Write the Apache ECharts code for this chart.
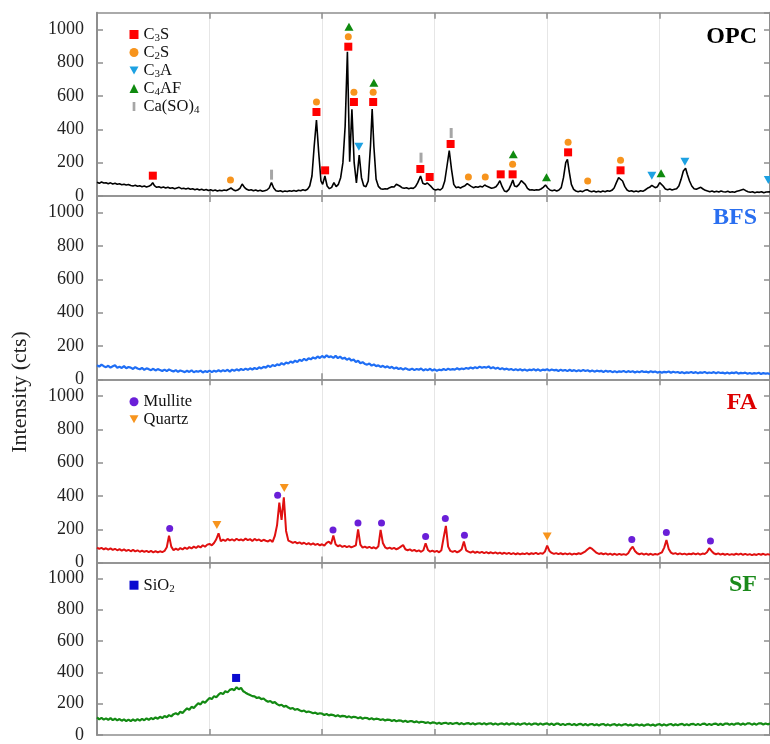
<!DOCTYPE html>
<html><head><meta charset="utf-8">
<script src="https://cdn.jsdelivr.net/npm/echarts@6/dist/echarts.min.js"></script>
<style>html,body{margin:0;padding:0;background:#fff}#c{width:770px;height:744px}</style>
</head><body><div id="c"></div>
<script>
// ---------- DATA ----------
const twoThetaTicks = [10, 20, 30, 40, 50, 60];
const twoThetaMax = 69.8;
const intensityTicks = [0, 200, 400, 600, 800, 1000];
const intensityMax = 1100;
const panelNames = ['OPC', 'BFS', 'FA', 'SF'];
const scanStart = 10, scanStep = 0.2; // measurement grid of BFS / FA / SF scans

const opcScan = [[10.0,82],[10.2,76],[10.4,84],[10.6,78],[10.8,80],[11.0,74],[11.2,79],[11.4,72],[11.6,76],[11.8,70],[12.0,73],[12.2,68],[12.4,71],[12.6,66],[12.8,69],[13.0,63],[13.2,60],[13.4,64],[13.6,58],[13.8,61],[14.0,56],[14.2,60],[14.4,54],[14.6,58],[14.8,66],[14.95,80],[15.1,62],[15.3,52],[15.5,56],[15.7,50],[15.9,54],[16.1,48],[16.3,53],[16.5,46],[16.7,50],[16.9,44],[17.1,48],[17.3,52],[17.5,44],[17.7,47],[17.9,42],[18.1,46],[18.3,40],[18.5,44],[18.7,38],[18.9,42],[19.1,36],[19.3,40],[19.5,35],[19.7,39],[19.9,33],[20.1,37],[20.3,32],[20.5,36],[20.7,30],[20.9,34],[21.1,32],[21.3,36],[21.5,33],[21.7,40],[21.9,48],[22.1,38],[22.3,32],[22.5,36],[22.7,46],[22.9,72],[23.1,52],[23.3,40],[23.5,34],[23.7,38],[23.9,32],[24.1,36],[24.3,30],[24.5,34],[24.7,28],[24.9,32],[25.1,36],[25.3,48],[25.5,80],[25.7,48],[25.9,32],[26.1,28],[26.3,32],[26.5,26],[26.7,30],[26.9,27],[27.1,32],[27.3,28],[27.5,33],[27.7,29],[27.9,35],[28.1,31],[28.3,37],[28.5,33],[28.7,40],[28.9,60],[29.1,120],[29.3,300],[29.5,456],[29.7,260],[29.9,90],[30.05,70],[30.25,120],[30.45,60],[30.65,44],[30.85,52],[31.05,80],[31.25,56],[31.45,70],[31.65,110],[31.85,200],[32.05,420],[32.25,866],[32.45,206],[32.65,520],[32.85,200],[33.05,78],[33.3,246],[33.5,110],[33.7,62],[33.9,56],[34.1,90],[34.3,300],[34.45,522],[34.6,300],[34.8,100],[35.0,58],[35.2,44],[35.4,40],[35.6,44],[35.8,42],[36.0,50],[36.2,56],[36.4,54],[36.6,70],[36.75,80],[36.9,60],[37.1,50],[37.3,46],[37.5,50],[37.7,44],[37.9,48],[38.1,46],[38.3,56],[38.5,80],[38.75,120],[38.95,76],[39.15,70],[39.35,78],[39.5,86],[39.7,56],[39.9,40],[40.1,36],[40.3,40],[40.5,36],[40.7,48],[40.9,90],[41.1,180],[41.3,272],[41.5,160],[41.7,70],[41.9,50],[42.1,54],[42.3,48],[42.5,56],[42.7,62],[42.9,74],[43.05,78],[43.25,58],[43.45,50],[43.65,56],[43.85,52],[44.05,58],[44.25,54],[44.45,66],[44.65,58],[44.85,52],[45.05,46],[45.25,50],[45.45,56],[45.65,74],[45.8,92],[46.0,56],[46.2,30],[46.4,26],[46.6,40],[46.8,70],[46.95,96],[47.1,60],[47.3,56],[47.5,70],[47.7,92],[47.85,96],[48.05,70],[48.25,46],[48.45,36],[48.65,38],[48.85,34],[49.05,38],[49.25,36],[49.45,42],[49.65,52],[49.85,66],[50.05,48],[50.25,36],[50.45,32],[50.65,36],[50.85,30],[51.05,36],[51.25,50],[51.45,110],[51.65,200],[51.8,220],[51.95,150],[52.15,70],[52.35,40],[52.55,30],[52.75,26],[52.95,30],[53.15,26],[53.35,34],[53.55,38],[53.75,30],[53.95,26],[54.15,30],[54.35,24],[54.55,28],[54.75,24],[54.95,30],[55.15,26],[55.35,32],[55.55,28],[55.75,34],[55.95,48],[56.15,80],[56.35,110],[56.5,116],[56.7,90],[56.9,56],[57.1,36],[57.3,28],[57.5,32],[57.7,26],[57.9,30],[58.1,26],[58.3,32],[58.5,28],[58.7,36],[58.9,46],[59.1,52],[59.3,64],[59.45,70],[59.6,50],[59.8,56],[60.0,80],[60.1,90],[60.3,60],[60.5,42],[60.7,38],[60.9,42],[61.1,36],[61.3,40],[61.5,44],[61.7,60],[61.9,100],[62.1,150],[62.3,166],[62.45,130],[62.65,90],[62.85,60],[63.05,44],[63.25,40],[63.45,46],[63.65,52],[63.85,42],[64.05,34],[64.25,30],[64.45,26],[64.65,30],[64.85,24],[65.05,28],[65.25,24],[65.45,30],[65.65,26],[65.85,24],[66.05,28],[66.25,22],[66.45,26],[66.65,22],[66.85,28],[67.05,32],[67.25,36],[67.45,40],[67.65,32],[67.85,26],[68.05,22],[68.25,26],[68.45,20],[68.65,24],[68.85,22],[69.05,26],[69.25,20],[69.45,24],[69.6,22],[69.8,25]];

const bfsCounts = [
84,76,88,79,73, 81,70,78,84,69, 75,68,79,66,74, 70,62,73,65,60, 68,57,66,61,55,
63,53,61,56,50, 58,49,59,52,47, 55,45,53,48,43, 51,44,54,42,49, 45,52,41,49,44,
52,43,51,46,54, 47,55,49,57,46, 58,51,60,53,62, 55,64,57,66,59, 68,61,72,65,75,
70,82,74,86,79, 90,84,97,88,101, 95,107,99,112,104, 117,110,123,114,126, 120,131,124,137,128,
140,130,144,133,138, 129,141,127,136,124, 130,117,126,112,119, 104,111,97,103,92, 88,95,82,89,79,
84,74,81,71,78, 68,75,64,71,62, 67,58,66,60,57, 64,55,62,57,65, 53,61,55,63,52,
60,51,58,54,62, 55,63,57,61,58, 66,59,65,61,68, 63,71,65,73,67, 76,69,74,70,77,
66,72,64,70,61, 67,59,64,57,62, 55,61,54,60,53, 59,52,58,55,61, 53,60,51,58,55,
60,52,59,54,57, 50,58,52,56,49, 57,50,55,48,54, 49,56,50,54,47, 53,46,52,48,51,
44,51,46,50,43, 49,42,48,45,50, 43,49,44,48,41, 47,42,49,44,46, 41,48,43,47,40,
46,40,45,42,47, 39,45,41,44,38, 43,37,42,39,44, 38,43,36,42,39, 44,37,41,38,43,
36,42,38,40,35, 41,35,40,37,42, 34,39,36,40,33, 38,33,37,35,39, 32,37,34,36,31];

const faCounts = [
90,82,88,80,86, 78,85,76,83,74, 81,72,79,70,77, 68,76,67,74,65, 72,64,71,63,70,
62,69,61,68,63, 70,92,162,96,74, 84,76,87,79,90, 82,93,85,96,88, 99,91,104,95,108,
112,104,118,140,176, 128,138,130,142,133, 140,131,143,134,139, 132,144,135,141,130, 142,133,139,129,137,
131,127,136,124,160, 225,360,256,392,190, 132,126,118,124,116, 121,113,119,110,117, 108,115,106,112,104,
110,102,118,126,112, 162,110,98,104,94, 101,93,99,91,97, 104,200,108,90,96, 88,95,86,92,84,
98,196,118,92,84, 90,82,88,80,86, 96,106,80,74,79, 70,76,67,73,65, 74,116,76,66,72,
64,70,62,74,150, 220,96,70,64,70, 62,68,80,126,74, 66,60,67,59,65, 58,64,57,63,56,
62,55,61,54,60, 53,59,52,58,51, 57,50,56,49,55, 51,57,50,56,52, 58,51,57,53,66,
102,70,58,52,57, 51,56,50,55,49, 55,48,54,50,56, 52,60,68,80,90, 82,70,58,52,56,
50,55,48,54,47, 53,46,52,47,51, 46,56,80,96,70, 56,50,55,48,54, 47,53,46,52,48,
55,62,90,136,82, 60,52,57,50,55, 49,54,48,53,50, 56,49,55,48,54, 52,62,86,70,56,
50,55,48,53,47, 52,46,51,47,53, 48,54,47,52,46, 51,45,50,46,52, 47,53,46,51,47];

const sfCounts = [
112,100,109,98,106, 97,108,95,104,93, 102,91,100,89,98, 88,99,90,101,92, 103,94,106,97,108,
101,112,104,116,108, 121,113,127,119,133, 139,131,148,140,156, 170,161,180,172,188, 203,195,214,206,222,
236,229,248,241,257, 268,261,279,272,288, 294,286,305,292,300, 279,270,262,255,248, 246,236,240,229,233,
220,212,217,205,210, 197,189,193,181,186, 175,168,172,161,166, 158,151,156,146,150, 145,139,143,134,139,
136,128,134,125,130, 127,120,126,117,122, 121,113,119,111,116, 114,107,113,104,110, 108,101,107,99,104,
102,96,101,93,98, 97,90,96,88,93, 92,85,91,83,88, 88,81,87,79,84, 83,76,82,74,80,
79,72,78,70,76, 78,71,77,70,75, 77,69,76,68,74, 76,69,75,67,73, 75,68,76,67,73,
75,67,74,66,72, 74,67,75,66,73, 74,66,73,65,72, 75,66,74,65,72, 73,65,74,66,71,
74,65,73,64,72, 72,64,71,63,70, 71,63,70,62,69, 71,62,70,61,68, 70,62,69,61,68,
70,61,68,60,67, 69,61,68,60,67, 69,60,67,59,66, 68,60,67,59,66, 68,60,67,59,67,
69,61,68,60,67, 70,61,69,62,68, 71,62,69,62,70, 71,63,70,63,71, 72,63,71,64,71,
73,64,72,64,72, 73,65,72,65,73, 74,65,73,66,74, 74,66,73,66,74, 75,67,74,68,73];

// phase markers [2theta, intensity]
const c3sPeaks  = [[14.96,122],[29.5,504],[30.27,154],[32.33,896],[32.83,564],[34.54,564],[38.73,162],[39.56,114],[41.42,312],[45.87,130],[46.93,130],[51.86,262],[56.52,154]];
const c2sPeaks  = [[21.86,96],[29.5,564],[32.33,956],[32.83,622],[34.54,622],[43.0,114],[44.5,114],[46.93,190],[51.86,322],[53.6,90],[56.52,214]];
const c3aPeaks  = [[33.27,296],[59.3,122],[62.24,206],[69.65,96]];
const c4afPeaks = [[32.39,1016],[34.6,680],[46.99,250],[49.94,112],[60.12,136]];
const caso4Peaks = [[25.51,128],[38.79,230],[41.47,378]];
const mullitePeaks = [[16.46,204],[26.05,404],[30.97,196],[33.19,238],[35.28,238],[39.2,156],[40.95,264],[42.65,164],[57.52,138],[60.59,180],[64.51,130]];
const quartzPeaks = [[20.65,226],[26.64,448],[50.0,156]];
const sio2Peaks = [[22.36,364]];

// ---------- CHART ----------
const serif = 'Liberation Serif';
const withTheta = counts => counts.map((v, i) => [+(scanStart + i * scanStep).toFixed(2), v]);
const lineData = [opcScan, withTheta(bfsCounts), withTheta(faCounts), withTheta(sfCounts)];
const lineColors = ['#000000', '#1f6ef5', '#e01010', '#138a13'];
const lineWidths = [1.6, 2.2, 2.0, 2.2];
const labelColors = ['#000000', '#2a6ff0', '#dd0000', '#1a8a1a'];
const labelY = [37, 218, 403, 585];

const PANEL_TOP = 12.7, PANEL_H = 183.3;
const invTri = 'path://M0,0 L10,0 L5,9 Z';
const bar = 'path://M0,0 L3,0 L3,10 L0,10 Z';
const axisGray = '#8e8e8e';

const grids = [], xAxes = [], yAxes = [], series = [], graphics = [];
panelNames.forEach((p, i) => {
  grids.push({left: 97, width: 676, top: PANEL_TOP + i * PANEL_H, height: PANEL_H});
  const xb = {
    gridIndex: i, type: 'value', min: twoThetaTicks[0], max: twoThetaMax,
    interval: twoThetaTicks[1] - twoThetaTicks[0],
    axisLine: {show: true, onZero: false, lineStyle: {color: axisGray, width: 1.5}},
    axisTick: {show: true, inside: true, length: 6, lineStyle: {color: axisGray, width: 1.5}},
    axisLabel: {show: false},
    splitLine: {show: true, lineStyle: {color: '#e6e6e6', width: 1}}
  };
  xAxes.push(xb);
  xAxes.push(Object.assign({}, xb, {position: 'top', splitLine: {show: false}}));
  const yl = {
    gridIndex: i, type: 'value', min: intensityTicks[0], max: intensityMax,
    interval: intensityTicks[1] - intensityTicks[0],
    axisLine: {show: true, onZero: false, lineStyle: {color: axisGray, width: 2}},
    axisTick: {show: true, inside: true, length: 6, lineStyle: {color: axisGray, width: 1.5}},
    axisLabel: {show: true, fontSize: 18, fontFamily: serif, color: '#222', margin: 13,
      showMaxLabel: false,
      formatter: v => intensityTicks.includes(v) ? String(v) : ''},
    splitLine: {show: false}
  };
  yAxes.push(yl);
  yAxes.push(Object.assign({}, yl, {position: 'right', axisLabel: {show: false}}));
  series.push({
    name: p, type: 'line', xAxisIndex: 2 * i, yAxisIndex: 2 * i, data: lineData[i],
    showSymbol: false, symbol: 'none', lineStyle: {color: lineColors[i], width: lineWidths[i]},
    z: 2, silent: true
  });
  graphics.push({type: 'text', x: 757, y: labelY[i], z: 100,
    style: {text: p, fill: labelColors[i], font: 'bold 24px "' + serif + '"', align: 'right', verticalAlign: 'middle'}});
});

function addMarkers(name, panel, data, symbol, size, color) {
  series.push({
    name, type: 'scatter', xAxisIndex: 2 * panel, yAxisIndex: 2 * panel, data,
    symbol, symbolSize: size, symbolKeepAspect: false,
    itemStyle: {color, opacity: 1}, z: 5, silent: true
  });
}
addMarkers('C3S', 0, c3sPeaks, 'rect', 8, '#ff0000');
addMarkers('C2S', 0, c2sPeaks, 'circle', 7, '#f7941d');
addMarkers('C3A', 0, c3aPeaks, invTri, [9, 8], '#1da1e2');
addMarkers('C4AF', 0, c4afPeaks, 'triangle', [9, 8], '#0f8a0f');
addMarkers('Ca(SO)4', 0, caso4Peaks, bar, [3, 10], '#a6a6a6');
addMarkers('Mullite', 2, mullitePeaks, 'circle', 7, '#6a1fd8');
addMarkers('Quartz', 2, quartzPeaks, invTri, [9, 8], '#f7941d');
addMarkers('SiO2', 3, sio2Peaks, 'rect', 8, '#0a0ad0');

const richLabel = {
  'C3S': '{n|C}{s|3}{n|S}', 'C2S': '{n|C}{s|2}{n|S}', 'C3A': '{n|C}{s|3}{n|A}',
  'C4AF': '{n|C}{s|4}{n|AF}', 'Ca(SO)4': '{n|Ca(SO)}{s|4}', 'SiO2': '{n|SiO}{s|2}',
  'Mullite': '{n|Mullite}', 'Quartz': '{n|Quartz}'
};
const legendBase = {
  orient: 'vertical', left: 129.5, padding: 0, itemWidth: 9, itemHeight: 9, itemGap: 0.5,
  selectedMode: false, formatter: n => richLabel[n],
  textStyle: {
    rich: {
      n: {fontSize: 16.5, fontFamily: serif, color: '#111', lineHeight: 18},
      s: {fontSize: 11, fontFamily: serif, color: '#111', lineHeight: 10, verticalAlign: 'bottom'}
    }
  }
};
const legends = [
  Object.assign({}, legendBase, {top: 26, data: [
    {name: 'C3S', icon: 'rect'}, {name: 'C2S', icon: 'circle'}, {name: 'C3A', icon: invTri},
    {name: 'C4AF', icon: 'triangle'}, {name: 'Ca(SO)4', icon: bar}]}),
  Object.assign({}, legendBase, {top: 393.3, data: [{name: 'Mullite', icon: 'circle'}, {name: 'Quartz', icon: invTri}]}),
  Object.assign({}, legendBase, {top: 576.7, data: [{name: 'SiO2', icon: 'rect'}]})
];

graphics.push({type: 'text', x: 20, y: 392, rotation: Math.PI / 2, z: 100,
  style: {text: 'Intensity (cts)', fill: '#222', font: '22px "' + serif + '"', align: 'center', verticalAlign: 'middle'}});

const chart = echarts.init(document.getElementById('c'), null, {renderer: 'canvas'});
chart.setOption({
  animation: false, backgroundColor: '#ffffff',
  grid: grids, xAxis: xAxes, yAxis: yAxes, series, legend: legends, graphic: graphics
});
</script></body></html>
